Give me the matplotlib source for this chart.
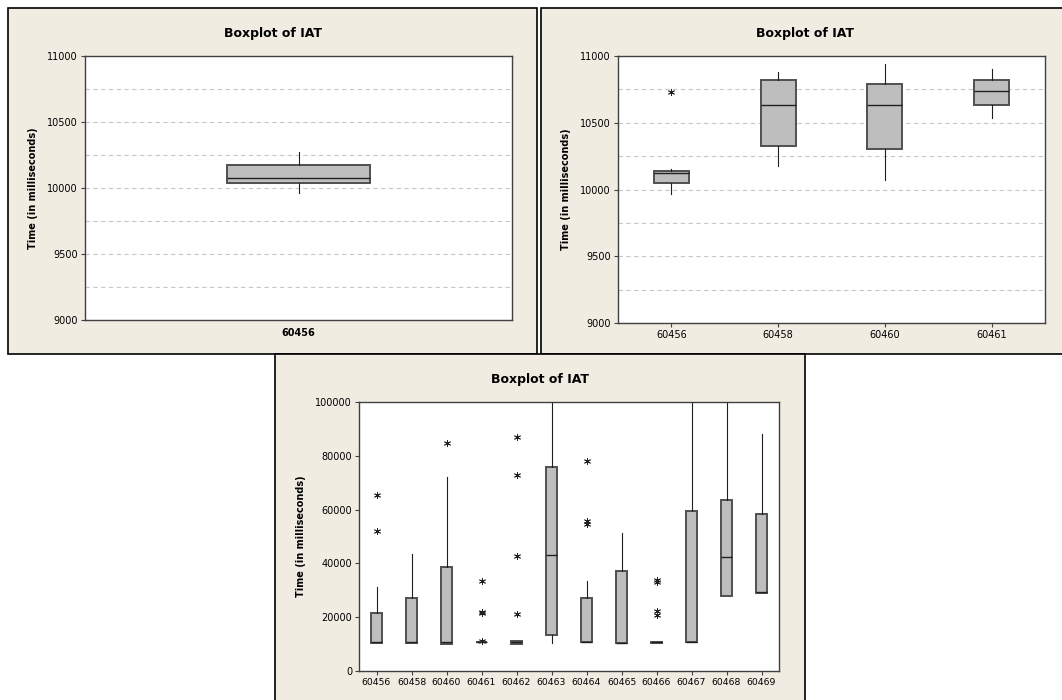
import matplotlib
matplotlib.use("Agg")
import matplotlib.pyplot as plt
from matplotlib.patches import Rectangle

plt.rcParams['font.family'] = ['DejaVu Sans']

# ---- data (milliseconds) ----
# panel 1: one camera
p1_labels = ["60456"]
p1_q1 = [10035]
p1_med = [10073]
p1_q3 = [10172]
p1_lo = [9965]
p1_hi = [10275]
p1_fliers = [[]]

# panel 2: four cameras, zoomed range
p2_labels = ["60456", "60458", "60460", "60461"]
p2_q1 = [10050, 10327, 10300, 10630]
p2_med = [10122, 10632, 10632, 10735]
p2_q3 = [10137, 10817, 10787, 10822]
p2_lo = [9965, 10177, 10072, 10535]
p2_hi = [10150, 10880, 10940, 10900]
p2_fliers = [[10727], [], [], []]

# panel 3: all cameras, full range
p3_labels = ["60456", "60458", "60460", "60461", "60462", "60463",
             "60464", "60465", "60466", "60467", "60468", "60469"]
p3_q1 = [10546, 10546, 10050, 10800, 10050, 13275, 10670, 10422, 10500, 10670, 27792, 29156]
p3_med = [10600, 10600, 10918, 10850, 10700, 43052, 10700, 10500, 10700, 10700, 42308, 29404]
p3_q3 = [21464, 27047, 38586, 10900, 11166, 75682, 27047, 37220, 10900, 59553, 63524, 58437]
p3_lo = [10546, 10546, 10050, 10800, 10050, 10298, 10670, 10422, 10500, 10670, 27792, 29156]
p3_hi = [31265, 43424, 71960, 10900, 11166, 120000, 33498, 51117, 10900, 120000, 120000, 88213]
p3_fliers = [[65260, 52109], [], [84864], [11166, 21464, 22084, 33498],
             [21092, 42680, 72704, 87097], [], [54590, 55583, 78040], [],
             [21000, 22300, 33200, 33800], [], [], []]

W, H = 1062, 700
BG = "#F0ECE2"
BOXFACE = "#BEBEBE"
EDGE = "#505050"


def fig_rect(l, t, r, b):
    # pixel box (from top-left) -> figure fraction [left, bottom, width, height]
    return [l / W, 1 - b / H, (r - l) / W, (b - t) / H]


def stats(labels, q1, med, q3, lo, hi, fliers):
    out = []
    for i in range(len(labels)):
        out.append(dict(label=labels[i], q1=q1[i], med=med[i], q3=q3[i],
                        whislo=lo[i], whishi=hi[i], fliers=fliers[i]))
    return out


def draw_box(ax, st, width):
    ax.bxp(st, widths=width, showcaps=False, patch_artist=True,
           boxprops=dict(facecolor=BOXFACE, edgecolor=EDGE, linewidth=1.4),
           medianprops=dict(color="#202020", linewidth=1.0),
           whiskerprops=dict(color="#202020", linewidth=0.8),
           flierprops=dict(marker=(6, 2, 0), markersize=5, markeredgecolor="#202020",
                           markeredgewidth=0.6, linestyle="none"))


def style_axes(ax):
    for s in ax.spines.values():
        s.set_color("#404040")
        s.set_linewidth(1.0)
    ax.tick_params(axis="both", labelsize=7, length=3, width=0.8, color="#404040", pad=2)
    ax.set_facecolor("white")


fig = plt.figure(figsize=(W / 100, H / 100), dpi=100)
fig.patch.set_facecolor("white")

# panel backgrounds
for l, t, r, b in [(8, 8, 537, 354), (541, 8, 1070, 354), (275, 354, 805, 710)]:
    x0, y0, w, h = fig_rect(l, t, r, b)
    fig.patches.append(Rectangle((x0, y0), w, h, transform=fig.transFigure,
                                 facecolor=BG, edgecolor="black", linewidth=1.2, zorder=-5))

# ---- panel 1 ----
ax1 = fig.add_axes(fig_rect(85, 56, 512, 320))
draw_box(ax1, stats(p1_labels, p1_q1, p1_med, p1_q3, p1_lo, p1_hi, p1_fliers), 0.333)
ax1.set_xlim(0.5, 1.5)
ax1.set_ylim(9000, 11000)
ax1.set_yticks([9000, 9500, 10000, 10500, 11000])
ax1.set_yticks([9250, 9750, 10250, 10750], minor=True)
ax1.grid(axis="y", which="both", linestyle=(0, (4, 3)), color="#C8C8C8", linewidth=0.8)
ax1.set_axisbelow(True)
style_axes(ax1)
ax1.tick_params(axis="y", which="minor", length=0)
ax1.tick_params(axis="x", length=0, pad=6)
for lab in ax1.get_xticklabels():
    lab.set_fontweight("bold")
ax1.set_ylabel("Time (in milliseconds)", fontsize=7, fontweight="bold", labelpad=7)
fig.text(273 / W, 1 - 33 / H, "Boxplot of IAT", ha="center", va="center",
         fontsize=9, fontweight="bold")

# ---- panel 2 ----
ax2 = fig.add_axes(fig_rect(618, 56, 1045, 323))
draw_box(ax2, stats(p2_labels, p2_q1, p2_med, p2_q3, p2_lo, p2_hi, p2_fliers), 0.33)
ax2.set_xlim(0.5, 4.5)
ax2.set_ylim(9000, 11000)
ax2.set_yticks([9000, 9500, 10000, 10500, 11000])
ax2.set_yticks([9250, 9750, 10250, 10750], minor=True)
ax2.grid(axis="y", which="both", linestyle=(0, (4, 3)), color="#C8C8C8", linewidth=0.8)
ax2.set_axisbelow(True)
style_axes(ax2)
ax2.tick_params(axis="y", which="minor", length=0)
ax2.set_ylabel("Time (in milliseconds)", fontsize=7, fontweight="bold", labelpad=7)
fig.text(805 / W, 1 - 33 / H, "Boxplot of IAT", ha="center", va="center",
         fontsize=9, fontweight="bold")

# ---- panel 3 ----
ax3 = fig.add_axes(fig_rect(359, 402, 779, 671))
draw_box(ax3, stats(p3_labels, p3_q1, p3_med, p3_q3, p3_lo, p3_hi, p3_fliers), 0.32)
ax3.set_xlim(0.5, 12.5)
ax3.set_ylim(0, 100000)
ax3.set_yticks([0, 20000, 40000, 60000, 80000, 100000])
style_axes(ax3)
ax3.tick_params(axis="x", labelsize=6.7)
ax3.set_ylabel("Time (in milliseconds)", fontsize=7, fontweight="bold", labelpad=7)
fig.text(540 / W, 1 - 379 / H, "Boxplot of IAT", ha="center", va="center",
         fontsize=9, fontweight="bold")

fig.savefig("out.png", dpi=100, facecolor=fig.get_facecolor())
